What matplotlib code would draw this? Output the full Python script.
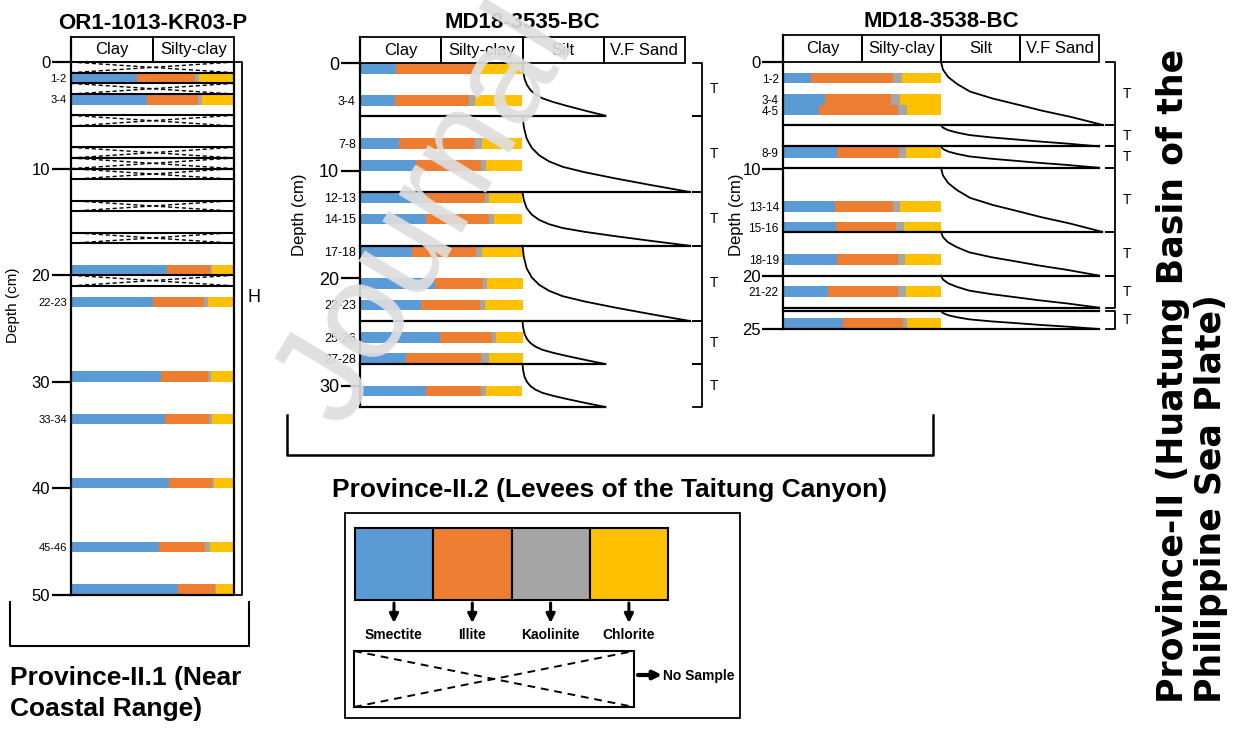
import matplotlib
matplotlib.use("Agg")
import matplotlib.pyplot as plt
from matplotlib.patches import Rectangle

plt.rcParams["font.family"] = ["Liberation Sans", "DejaVu Sans"]

W, H = 1236, 729

MINERALS = ["Smectite", "Illite", "Kaolinite", "Chlorite"]
MINERAL_COLORS = ["#5B9BD5", "#ED7D31", "#A5A5A5", "#FFC000"]
FINE_COLUMNS = ["Clay", "Silty-clay"]
ALL_COLUMNS = ["Clay", "Silty-clay", "Silt", "V.F Sand"]

# OR1-1013-KR03-P (Province-II.1), clay minerals in %
kr03_top = [1, 3, 19, 22, 29, 33, 39, 45, 49]
kr03_bottom = [2, 4, 20, 23, 30, 34, 40, 46, 50]
kr03_labels = ["1-2", "3-4", "", "22-23", "", "33-34", "", "45-46", ""]
kr03_smectite = [40.6, 46.8, 59.2, 50.5, 55.0, 57.8, 60.3, 54.1, 65.6]
kr03_illite = [35.6, 31.1, 25.8, 30.8, 28.8, 26.7, 26.3, 28.4, 22.6]
kr03_kaolinite = [2.5, 2.5, 1.2, 2.5, 2.1, 1.9, 1.4, 2.5, 0.8]
kr03_chlorite = [21.3, 19.6, 13.8, 16.2, 14.1, 13.6, 12.0, 15.0, 11.0]
kr03_no_sample_top = [0, 2, 5, 8, 9, 10, 13, 16, 20]

# MD18-3535-BC
bc35_top = [0, 3, 7, 9, 12, 14, 17, 20, 22, 25, 27, 30]
bc35_bottom = [1, 4, 8, 10, 13, 15, 18, 21, 23, 26, 28, 31]
bc35_labels = ["", "3-4", "7-8", "", "12-13", "14-15", "17-18", "", "22-23",
               "25-26", "27-28", ""]
bc35_smectite = [22.1, 21.5, 23.9, 34.4, 40.0, 40.9, 31.9, 46.0, 37.4, 49.5, 28.0, 40.9]
bc35_illite = [48.5, 45.6, 46.8, 40.3, 37.1, 38.2, 39.3, 29.6, 36.2, 31.9, 46.6, 33.7]
bc35_kaolinite = [1.0, 3.7, 4.3, 3.1, 2.2, 3.1, 3.7, 2.5, 3.5, 2.0, 4.5, 3.1]
bc35_chlorite = [28.4, 29.2, 25.0, 22.2, 20.7, 17.8, 25.1, 21.9, 22.9, 16.6, 20.9, 22.3]
# turbidite units: top, base and coarsest grain size reached at the base
bc35_unit_top = [0, 4.9, 12, 17, 24, 28]
bc35_unit_base = [4.9, 12, 17, 24, 28, 32]
bc35_unit_tip = [3.02, 4.06, 4.06, 4.06, 3.02, 3.02]

# MD18-3538-BC
bc38_top = [1, 3, 4, 8, 13, 15, 18, 21, 24]
bc38_bottom = [2, 4, 5, 9, 14, 16, 19, 22, 25]
bc38_labels = ["1-2", "3-4", "4-5", "8-9", "13-14", "15-16", "18-19", "21-22", ""]
bc38_smectite = [17.5, 26.8, 23.0, 34.0, 32.9, 33.7, 34.2, 28.5, 37.8]
bc38_illite = [52.3, 41.6, 50.0, 39.2, 36.7, 37.6, 38.4, 44.1, 38.0]
bc38_kaolinite = [5.7, 5.9, 5.3, 4.6, 4.6, 5.1, 4.4, 5.3, 2.9]
bc38_chlorite = [24.5, 25.7, 21.7, 22.2, 25.8, 23.6, 23.0, 22.1, 21.3]
bc38_unit_top = [0, 5.9, 7.9, 9.9, 15.9, 20.0, 23.3]
bc38_unit_base = [5.9, 7.9, 9.9, 15.9, 20.0, 23.0, 25.0]
bc38_unit_tip = [4.05, 4.0, 4.0, 4.04, 4.0, 4.0, 4.0]

# fining-upward grain-size profile (fraction of unit, fraction of width)
bc35_shape_t = [0, 0.15, 0.3, 0.42, 0.52, 0.6, 0.67, 0.74, 0.82, 0.91, 1.0]
bc35_shape_s = [0, 0.008, 0.025, 0.055, 0.1, 0.16, 0.24, 0.37, 0.55, 0.77, 1.0]
bc38_shape_t = [0, 0.12, 0.24, 0.35, 0.47, 0.58, 0.68, 0.77, 0.87, 1.0]
bc38_shape_s = [0, 0.012, 0.045, 0.1, 0.18, 0.32, 0.48, 0.62, 0.8, 1.0]

fig = plt.figure(figsize=(W / 100, H / 100), dpi=100)


def px_axes(x0, y0, x1, y1, **kw):
    return fig.add_axes([x0 / W, 1 - y1 / H, (x1 - x0) / W, (y1 - y0) / H], **kw)


def draw_core(ax, tops, bottoms, labels, comps, depth_max, header_top, columns,
              major, major_size=12, minor_size=8, tick_len=14):
    ax.set_xlim(0, len(columns))
    ax.set_ylim(depth_max, header_top)
    for sp in ax.spines.values():
        sp.set_visible(False)
    heights = [b - t for t, b in zip(tops, bottoms)]
    left = [0.0] * len(tops)
    for values, color in zip(comps, MINERAL_COLORS):
        widths = [v / 50.0 for v in values]   # 100 % fills the two fine columns
        ax.barh(tops, widths, left=left, height=heights, align="edge",
                color=color, linewidth=0)
        left = [l + w for l, w in zip(left, widths)]
    for i, name in enumerate(columns):
        ax.add_patch(Rectangle((i, header_top), 1, -header_top, fill=False,
                               ec="black", lw=1.3, clip_on=False))
        ax.text(i + 0.5, header_top / 2, name, ha="center", va="center", fontsize=12)
    ax.plot([0, 0], [header_top, depth_max], color="black", lw=1.6, clip_on=False)
    ax.set_xticks([])
    ax.set_yticks(major, [str(m) for m in major])
    ax.set_yticks([(t + b) / 2 for t, b in zip(tops, bottoms)], labels, minor=True)
    ax.tick_params(axis="y", which="major", length=tick_len, width=1.6,
                   labelsize=major_size, pad=1)
    ax.tick_params(axis="y", which="minor", length=0, labelsize=minor_size, pad=3)


def draw_units(ax, tops, bases, tips, shape_t, shape_s, bracket_x, t_size):
    prev_base = None
    for top, base, tip in zip(tops, bases, tips):
        xs = [2 + s * (tip - 2) for s in shape_s]
        ys = [top + t * (base - top) for t in shape_t]
        ax.plot(xs, ys, color="black", lw=1.3, clip_on=False)
        ax.plot([0, tip], [base, base], color="black", lw=1.6, clip_on=False)
        if prev_base is not None and top != prev_base:
            ax.plot([0, tip], [top, top], color="black", lw=1.6, clip_on=False)
        prev_base = base
        ax.plot([bracket_x - 0.11, bracket_x, bracket_x, bracket_x - 0.11],
                [top, top, base, base], color="black", lw=1.3, clip_on=False)
        ax.text(bracket_x + 0.1, (top + base) / 2, "T", ha="left", va="center",
                fontsize=t_size)


# --- OR1-1013-KR03-P ---
ax1 = px_axes(71, 37, 234, 595)
draw_core(ax1, kr03_top, kr03_bottom, kr03_labels,
          [kr03_smectite, kr03_illite, kr03_kaolinite, kr03_chlorite],
          50, -2.35, FINE_COLUMNS, [0, 10, 20, 30, 40, 50])
ax1.plot([2, 2, 0], [0, 50, 50], color="black", lw=1.6, clip_on=False)
for d in kr03_no_sample_top:
    ax1.plot([0, 2], [d, d], color="black", lw=1.5)
    ax1.plot([0, 2], [d + 1, d + 1], color="black", lw=1.5)
    ax1.plot([0, 2], [d, d + 1], color="black", lw=1.0, ls=(0, (3, 2)))
    ax1.plot([0, 2], [d + 1, d], color="black", lw=1.0, ls=(0, (3, 2)))
ax1.plot([2.02, 2.1, 2.1, 2.02], [0, 0, 50, 50], color="black", lw=1.3, clip_on=False)
ax1.text(2.17, 22.1, "H", ha="left", va="center", fontsize=13)
ax1.text(-0.356, 0.52, "Depth (cm)", rotation=90, ha="center", va="center",
         fontsize=11, transform=ax1.transAxes)
ax1.text(1.0, -3.6, "OR1-1013-KR03-P", ha="center", va="center", fontsize=16,
         fontweight="bold")

# --- MD18-3535-BC ---
ax2 = px_axes(360, 37, 685, 407)
draw_core(ax2, bc35_top, bc35_bottom, bc35_labels,
          [bc35_smectite, bc35_illite, bc35_kaolinite, bc35_chlorite],
          32, -2.42, ALL_COLUMNS, [0, 10, 20, 30], major_size=13, minor_size=9)
draw_units(ax2, bc35_unit_top, bc35_unit_base, bc35_unit_tip,
           bc35_shape_t, bc35_shape_s, 4.21, 10)
ax2.text(-0.185, 0.52, "Depth (cm)", rotation=90, ha="center", va="center",
         fontsize=12, transform=ax2.transAxes)
ax2.text(2.0, -3.75, "MD18-3535-BC", ha="center", va="center", fontsize=16,
         fontweight="bold")

# --- MD18-3538-BC ---
ax3 = px_axes(783, 35, 1099, 329)
draw_core(ax3, bc38_top, bc38_bottom, bc38_labels,
          [bc38_smectite, bc38_illite, bc38_kaolinite, bc38_chlorite],
          25, -2.53, ALL_COLUMNS, [0, 10, 20, 25], minor_size=8.5, tick_len=15)
draw_units(ax3, bc38_unit_top, bc38_unit_base, bc38_unit_tip,
           bc38_shape_t, bc38_shape_s, 4.2, 10)
ax3.text(-0.146, 0.39, "Depth (cm)", rotation=90, ha="center", va="center",
         fontsize=12, transform=ax3.transAxes)
ax3.text(2.0, -3.75, "MD18-3538-BC", ha="center", va="center", fontsize=16,
         fontweight="bold")

# --- annotations, legend and watermark on a full-figure layer ---
ov = px_axes(0, 0, W, H, zorder=5)
ov.set_xlim(0, W)
ov.set_ylim(H, 0)
ov.axis("off")

ov.plot([10, 10, 249, 249], [602, 646, 646, 602], color="black", lw=1.5)
ov.text(10, 666, "Province-II.1 (Near\nCoastal Range)", ha="left", va="top",
        fontsize=19, fontweight="bold", linespacing=1.35)
ov.plot([287, 287, 933, 933], [415, 455, 455, 415], color="black", lw=1.8)
ov.text(610, 490, "Province-II.2 (Levees of the Taitung Canyon)", ha="center",
        va="center", fontsize=19, fontweight="bold")

ov.add_patch(Rectangle((345, 513), 395, 205, fill=False, ec="black", lw=1.3))
for i, (name, color) in enumerate(zip(MINERALS, MINERAL_COLORS)):
    x0 = 355 + 78.3 * i
    ov.add_patch(Rectangle((x0, 528), 78.3, 72, fc=color, ec="black", lw=1.5))
    ov.annotate("", xy=(x0 + 39, 623), xytext=(x0 + 39, 603),
                arrowprops=dict(arrowstyle="-|>", lw=2.2, color="black",
                                mutation_scale=13, shrinkA=0, shrinkB=0))
    ov.text(x0 + 39, 635, name, ha="center", va="center", fontsize=10,
            fontweight="bold")
ov.add_patch(Rectangle((354, 651), 280, 56, fill=False, ec="black", lw=1.5))
ov.plot([354, 634], [651, 707], color="black", lw=1.4, ls=(0, (4, 3)))
ov.plot([354, 634], [707, 651], color="black", lw=1.4, ls=(0, (4, 3)))
ov.annotate("", xy=(662, 675), xytext=(638, 675),
            arrowprops=dict(arrowstyle="-|>", lw=3, color="black",
                            mutation_scale=12, shrinkA=0, shrinkB=0))
ov.text(663, 676, "No Sample", ha="left", va="center", fontsize=10,
        fontweight="bold")

ov.text(1192, 376, "Province-II (Huatung Basin of the\nPhilippine Sea Plate)",
        rotation=90, ha="center", va="center", multialignment="left",
        fontsize=25, fontweight="bold", family="DejaVu Sans", linespacing=1.18)

ov.text(428, 216, "Journal", rotation=59, ha="center", va="center",
        fontsize=100, color="#dedede", alpha=0.92, zorder=10)

fig.savefig("out.png", dpi=100)
